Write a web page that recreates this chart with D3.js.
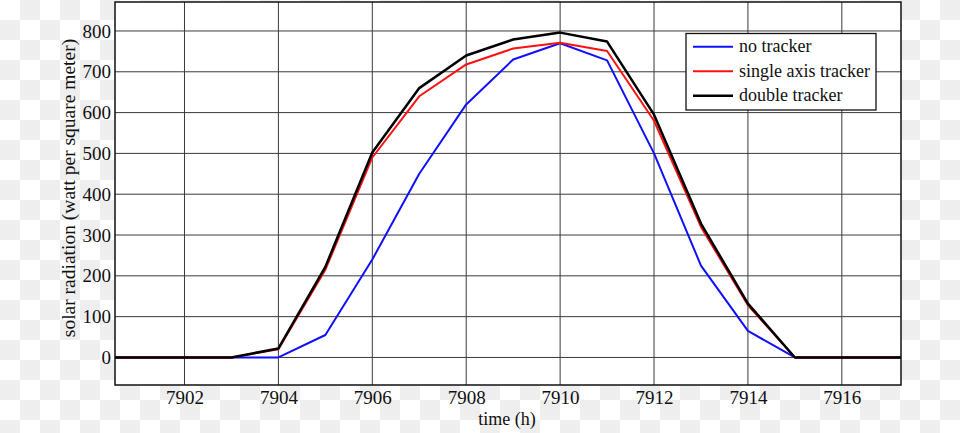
<!DOCTYPE html>
<html>
<head>
<meta charset="utf-8">
<script src="https://cdn.jsdelivr.net/npm/d3@7"></script>
<style>
  body { margin: 0; }
  svg text { font-family: "Liberation Serif", "DejaVu Serif", serif !important; fill: #111; }
</style>
</head>
<body>
<svg width="960" height="433"></svg>
<script>
// hours and solar radiation per tracker type
var hours = [7900, 7901, 7902, 7903, 7904, 7905, 7906, 7907, 7908, 7909, 7910, 7911, 7912, 7913, 7914, 7915, 7916, 7917, 7918];
var noTracker = [0, 0, 0, 0, 0, 55, 240, 450, 620, 730, 770, 728, 500, 225, 65, 0, 0, 0, 0];
var singleAxis = [0, 0, 0, 0, 20, 215, 490, 640, 718, 757, 771, 751, 580, 320, 128, 0, 0, 0, 0];
var doubleTracker = [0, 0, 0, 0, 22, 222, 502, 660, 740, 779, 796, 774, 595, 328, 132, 0, 0, 0, 0];
var xTicks = [7902, 7904, 7906, 7908, 7910, 7912, 7914, 7916];
var yTicks = [0, 100, 200, 300, 400, 500, 600, 700, 800];
var seriesNames = ['no tracker', 'single axis tracker', 'double tracker'];

function main() {
	var svg = d3.select('svg'),
	width = +svg.attr('width'),
	height = +svg.attr('height');

	// checkerboard backdrop (transparent png look)
	var sq = 20;
	var cells = [];
	for (var r = 0; r < Math.ceil(height / sq); r++)
		for (var c = 0; c < Math.ceil(width / sq); c++)
			cells.push({r: r, c: c});
	svg.append('g').selectAll('rect').data(cells).enter().append('rect')
		.attr('x', function(d){ return d.c * sq; })
		.attr('y', function(d){ return d.r * sq; })
		.attr('width', sq).attr('height', sq)
		.attr('fill', function(d){ return (d.r + d.c) % 2 ? '#eeeeee' : '#ffffff'; });

	var left = 115, right = 901, top = 2, bottom = 385;

	var x = d3.scaleLinear().domain([7900.52, 7917.26]).range([left, right]);
	var y = d3.scaleLinear().domain([-67.5, 871]).range([bottom, top]);

	svg.append('rect')
		.attr('x', left).attr('y', top)
		.attr('width', right - left).attr('height', bottom - top)
		.attr('fill', '#fff');

	svg.append('defs').append('clipPath').attr('id', 'plot')
		.append('rect').attr('x', left).attr('y', top)
		.attr('width', right - left).attr('height', bottom - top);

	// grid
	var grid = svg.append('g').attr('stroke', '#3a3a3a').attr('stroke-width', 1);
	grid.selectAll('line.gx').data(xTicks).enter().append('line')
		.attr('x1', function(d){ return x(d); }).attr('x2', function(d){ return x(d); })
		.attr('y1', top).attr('y2', bottom);
	grid.selectAll('line.gy').data(yTicks).enter().append('line')
		.attr('y1', function(d){ return y(d); }).attr('y2', function(d){ return y(d); })
		.attr('x1', left).attr('x2', right);

	// axes
	var xAxis = svg.append('g')
		.attr('transform', 'translate(0,' + bottom + ')')
		.call(d3.axisBottom(x).tickValues(xTicks).tickSize(0).tickPadding(6).tickFormat(d3.format('d')));
	var yAxis = svg.append('g')
		.attr('transform', 'translate(' + left + ',0)')
		.call(d3.axisLeft(y).tickValues(yTicks).tickSize(0).tickPadding(4));
	[xAxis, yAxis].forEach(function(a){
		a.select('.domain').remove();
		a.attr('font-family', null).attr('font-size', null);
		a.selectAll('text').style('font-size', '19px').style('fill', '#111');
	});

	// lines
	var line = d3.line()
		.x(function(d, i){ return x(hours[i]); })
		.y(function(d){ return y(d); });
	var colors = ['#1010ff', '#ff1010', '#000'];
	var widths = [2, 2, 2.5];
	var lines = svg.append('g').attr('clip-path', 'url(#plot)');
	[noTracker, singleAxis, doubleTracker].forEach(function(s, i){
		lines.append('path')
			.attr('d', line(s))
			.attr('fill', 'none')
			.attr('stroke', colors[i])
			.attr('stroke-width', widths[i])
			.attr('stroke-linejoin', 'round');
	});

	// frame
	svg.append('rect')
		.attr('x', left).attr('y', top)
		.attr('width', right - left).attr('height', bottom - top)
		.attr('fill', 'none').attr('stroke', '#111').attr('stroke-width', 1.5);

	// legend
	var lg = svg.append('g').attr('transform', 'translate(686,33.5)');
	lg.append('rect').attr('width', 190).attr('height', 76.5)
		.attr('fill', '#fff').attr('stroke', '#111').attr('stroke-width', 1.3);
	seriesNames.forEach(function(n, i){
		var yy = 13.2 + i * 24.5;
		lg.append('line').attr('x1', 7).attr('x2', 47).attr('y1', yy).attr('y2', yy)
			.attr('stroke', colors[i]).attr('stroke-width', widths[i]);
		lg.append('text').attr('x', 53).attr('y', yy + 5.5)
			.style('font-size', '18px').text(n);
	});

	// axis titles
	svg.append('text')
		.attr('x', 507).attr('y', 425)
		.attr('text-anchor', 'middle').style('font-size', '18px')
		.text('time (h)');
	svg.append('text')
		.attr('transform', 'translate(75,' + 188 + ') rotate(-90)')
		.attr('text-anchor', 'middle').style('font-size', '19.5px')
		.text('solar radiation (watt per square meter)');
}
main();
</script>
</body>
</html>
